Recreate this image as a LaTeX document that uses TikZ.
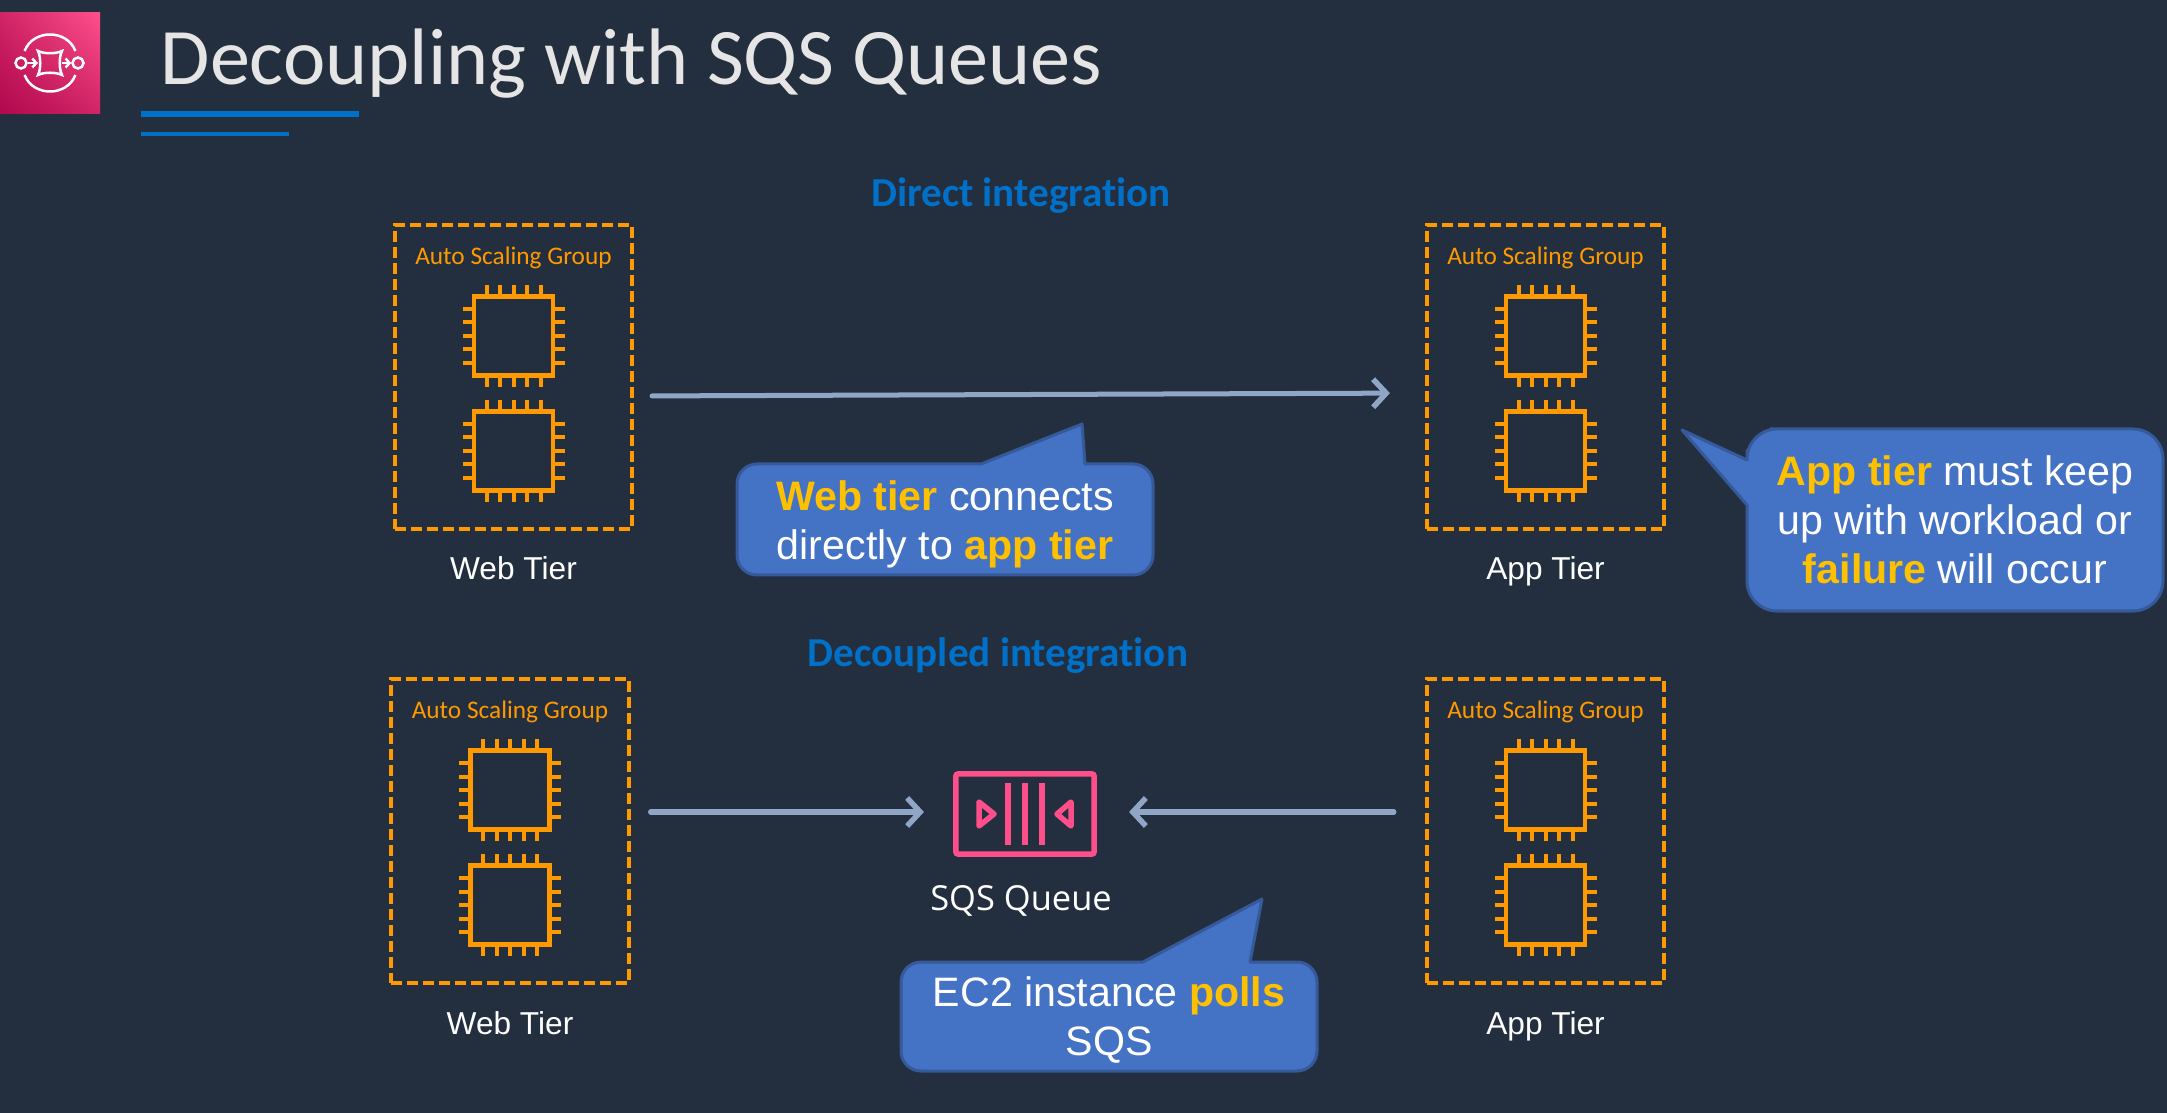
\documentclass[tikz,border=0pt]{standalone}
\usepackage{fontspec}
\setmainfont[Ligatures=NoCommon]{Carlito}
\newfontfamily\arialfont{Liberation Sans}
\newfontfamily\labelfont{Open Sans}
\usetikzlibrary{arrows.meta,shadings}
\definecolor{SlideBg}{HTML}{232F3E}
\definecolor{AwsOrange}{HTML}{FF9900}
\definecolor{AwsPink}{HTML}{FF4F8B}
\definecolor{AwsPinkDark}{HTML}{B0084D}
\definecolor{TitleBlue}{HTML}{0070C9}
\definecolor{FlowGrey}{HTML}{8FA6C6}
\definecolor{BubbleBlue}{HTML}{4472C4}
\definecolor{BubbleEdge}{HTML}{36599A}
\definecolor{BubbleYellow}{HTML}{FFC000}
\tikzset{
  asgbox/.style={draw=AwsOrange, line width=0.04cm, dash pattern=on 0.11cm off 0.05cm, minimum width=2.37cm, minimum height=3.04cm, outer sep=0pt},
  asglabel/.style={text=AwsOrange, font=\fontsize{7.2}{9}\selectfont},
  tierlabel/.style={text=white, anchor=base, font=\arialfont\fontsize{9}{11}\selectfont},
  chipbox/.style={draw=AwsOrange, line width=0.045cm, minimum size=0.79cm, outer sep=0pt},
  chippin/.style={draw=AwsOrange, line width=0.04cm},
  flow/.style={draw=FlowGrey, line width=0.05cm, line cap=round, -{Straight Barb[length=0.13cm,width=0.28cm,line width=0.055cm]}},
  heading/.style={text=TitleBlue, font=\bfseries\fontsize{11.7}{13}\selectfont},
  bubble/.style={draw=BubbleEdge, fill=BubbleBlue, line width=0.03cm, line join=round},
  bubbletext/.style={text=white, align=center, font=\arialfont\fontsize{11.7}{14}\selectfont},
  iconline/.style={draw=white, line width=0.025cm}
}
\newcommand{\hl}[1]{\textcolor{BubbleYellow}{\textbf{#1}}}
% one chip: name, x, y
\newcommand{\chipicon}[3]{
  \node[chipbox] (#1) at (#2,#3) {};
  \foreach \d in {-27,-13.5,0,13.5,27} {
    \draw[chippin] (#2+\d,#3-41) -- (#2+\d,#3-51);
    \draw[chippin] (#2+\d,#3+41) -- (#2+\d,#3+51);
    \draw[chippin] (#2-41,#3+\d) -- (#2-51,#3+\d);
    \draw[chippin] (#2+41,#3+\d) -- (#2+51,#3+\d);
  }
}
% one group: name, x, top y, tier text
\newcommand{\asggroup}[4]{
  \node[asgbox] (#1) at (#2,#3+152) {};
  \node[asglabel] (#1lab) at (#2,#3+33) {Auto Scaling Group};
  \chipicon{#1a}{#2}{#3+111}
  \chipicon{#1b}{#2}{#3+226}
  \node[tierlabel] (#1tier) at (#2,#3+355) {#4};
}
\begin{document}
\begin{tikzpicture}[x=0.01cm,y=-0.01cm]
  \fill[SlideBg] (0,0) rectangle (2167,1113);
  \useasboundingbox (0,0) rectangle (2167,1113);

  % Icon in the corner
  \shade[lower left=AwsPinkDark, upper right=AwsPink, lower right=AwsPinkDark!60!AwsPink, upper left=AwsPinkDark!60!AwsPink] (0,13) rectangle (100,114);
  \draw[iconline] (24.6,51) .. controls (33,29) and (67,29) .. (75.4,51);
  \draw[iconline] (24.6,75) .. controls (33,97) and (67,97) .. (75.4,75);
  \node[draw=white, line width=0.025cm, circle, minimum size=0.11cm, inner sep=0pt] (iconl) at (21,63) {};
  \node[draw=white, line width=0.025cm, circle, minimum size=0.11cm, inner sep=0pt] (iconr) at (78,63) {};
  \draw[iconline] (38,51) .. controls (44,54) and (56,54) .. (62,51) .. controls (59,57) and (59,69) .. (62,75) .. controls (56,72) and (44,72) .. (38,75) .. controls (41,69) and (41,57) .. (38,51) -- cycle;
  \draw[iconline, -{Straight Barb[length=0.04cm,width=0.09cm]}] (iconl) -- (38,63);
  \draw[iconline, -{Straight Barb[length=0.04cm,width=0.09cm]}] (62,63) -- (iconr);

  % Title and rules
  \node[anchor=base west, text=white!90!black, font=\fontsize{22.8}{28}\selectfont, inner sep=0pt] (title) at (160,85) {Decoupling with SQS Queues};
  \fill[TitleBlue] (141,111) rectangle (359,117);
  \fill[TitleBlue] (141,132) rectangle (289,136);

  % Direct integration
  \node[heading] (direct) at (1021,196) {Direct integration};
  \asggroup{webtop}{513.5}{225}{Web Tier}
  \asggroup{apptop}{1545.5}{225}{App Tier}
  \draw[flow, shorten <=0.2cm, shorten >=0.37cm] ([yshift=-0.19cm]webtop.east) -- ([yshift=-0.16cm]apptop.west);

  \draw[bubble, rounded corners=0.2cm] (737,520) |- (800,464) [sharp corners] -- (981,464) -- (1082,424) -- (1085,464) -- (1100,464) [rounded corners=0.2cm] -| (1153,520) |- (737,575) -- cycle;
  \node[bubbletext] (note1) at (945,524) {\hl{Web tier} connects\\directly to \hl{app tier}};

  \draw[bubble, rounded corners=0.3cm] (1900,429) -| (2163,520) |- (1747,611) -- (1747,540) [sharp corners] -- (1747,505) -- (1682,430) -- (1747,460) -- (1747,450) [rounded corners=0.3cm] |- (1800,429) -- cycle;
  \node[bubbletext] (note2) at (1955,520) {\hl{App tier} must keep\\up with workload or\\\hl{failure} will occur};

  % Decoupled integration
  \node[heading] (decoupled) at (998,656) {Decoupled integration};
  \asggroup{webbot}{510}{679}{Web Tier}
  \asggroup{appbot}{1545.5}{679}{App Tier}

  \node[draw=AwsPink, line width=0.055cm, rounded corners=0.02cm, minimum width=1.38cm, minimum height=0.8cm, outer sep=0pt] (sqs) at (1025,814) {};
  \foreach \x in {1008,1025,1042} {
    \draw[AwsPink, line width=0.055cm] (\x,783) -- (\x,845);
  }
  \draw[AwsPink, line width=0.055cm, line join=round] (979,802) -- (994,814) -- (979,826) -- cycle;
  \draw[AwsPink, line width=0.055cm, line join=round] (1071,802) -- (1057,814) -- (1071,826) -- cycle;
  \node[anchor=base, text=white, font=\labelfont\fontsize{9.8}{11}\selectfont] (sqslab) at (1021,910) {SQS Queue};

  \draw[flow, shorten <=0.22cm, shorten >=0.32cm] ([yshift=0.02cm]sqs.west -| webbot.east) -- ([yshift=0.02cm]sqs.west);
  \draw[flow, shorten <=0.33cm, shorten >=0.35cm] ([yshift=0.02cm]sqs.east -| appbot.west) -- ([yshift=0.02cm]sqs.east);

  \draw[bubble, rounded corners=0.2cm] (901,1016) |- (1000,962) [sharp corners] -- (1143,962) -- (1262,899) -- (1250,962) -- (1270,962) [rounded corners=0.2cm] -| (1317,1016) |- (901,1071) -- cycle;
  \node[bubbletext] (note3) at (1109,1020) {EC2 instance \hl{polls}\\SQS};
\end{tikzpicture}
\end{document}
